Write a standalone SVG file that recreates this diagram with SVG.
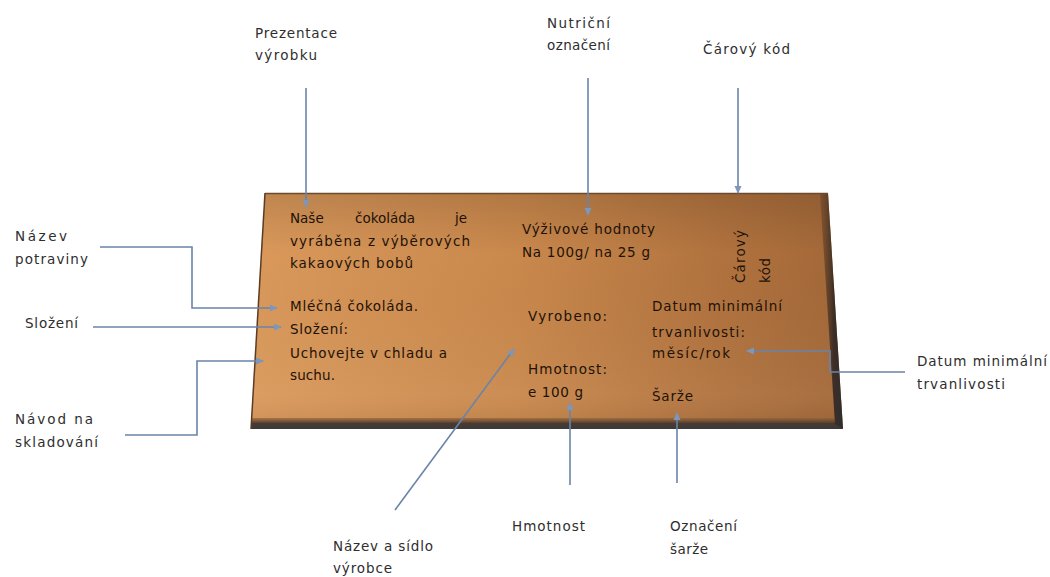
<svg xmlns="http://www.w3.org/2000/svg" width="1050" height="577" viewBox="0 0 1050 577">
  <style>
    .lbl { font-family: "DejaVu Sans", "Liberation Sans", sans-serif; font-size: 13.5px; fill: #2e2e2e; }
    .bar { font-family: "DejaVu Sans", "Liberation Sans", sans-serif; font-size: 13.5px; fill: #1e1208; }
    .conn { fill: none; stroke: #6a84a8; stroke-width: 1.6; marker-end: url(#arr); }
  </style>
  <defs>
    <marker id="arr" viewBox="0 0 8 8" refX="7" refY="4" markerWidth="8" markerHeight="8" markerUnits="userSpaceOnUse" orient="auto">
      <path d="M0,0.5 L8,4 L0,7.5 z" fill="#7d97bb"/>
    </marker>
    <linearGradient id="barH" x1="0" y1="0" x2="1" y2="0">
      <stop offset="0" stop-color="#da995b"/>
      <stop offset="0.45" stop-color="#c9884c"/>
      <stop offset="0.8" stop-color="#b0723e"/>
      <stop offset="1" stop-color="#a36838"/>
    </linearGradient>
    <linearGradient id="barV" x1="0" y1="0" x2="0" y2="1">
      <stop offset="0" stop-color="#000" stop-opacity="0.12"/>
      <stop offset="0.25" stop-color="#000" stop-opacity="0"/>
      <stop offset="0.85" stop-color="#fff" stop-opacity="0.04"/>
      <stop offset="1" stop-color="#000" stop-opacity="0.08"/>
    </linearGradient>
    <linearGradient id="bottomBand" x1="0" y1="0" x2="0" y2="1">
      <stop offset="0" stop-color="#8a5e3a" stop-opacity="0.6"/>
      <stop offset="0.5" stop-color="#4a3a30"/>
      <stop offset="1" stop-color="#3a3a3c"/>
    </linearGradient>
    <linearGradient id="rightBand" x1="0" y1="0" x2="1" y2="0">
      <stop offset="0" stop-color="#6a4426" stop-opacity="0.5"/>
      <stop offset="0.6" stop-color="#3c2e26"/>
      <stop offset="1" stop-color="#2e2e30"/>
    </linearGradient>
  </defs>

  <rect width="1050" height="577" fill="#ffffff"/>

  <g id="chocolate-bar">
    <polygon points="265,193 828,193 843,429 251,429" fill="url(#barH)"/>
    <polygon points="265,193 828,193 843,429 251,429" fill="url(#barV)"/>
    <polygon points="252,418 836,418 843,429 251,429" fill="url(#bottomBand)"/>
    <polygon points="820,194 828,193 843,429 835,424" fill="url(#rightBand)"/>
    <line x1="265" y1="193.5" x2="828" y2="193.5" stroke="#6e4a2c" stroke-width="1.5"/>
    <line x1="265" y1="193" x2="251" y2="429" stroke="#5a3c24" stroke-width="1.5"/>

    <g id="bar-text-presentation">
      <text class="bar" x="290" y="223">Naše</text>
      <text class="bar" x="355" y="223">čokoláda</text>
      <text class="bar" x="455" y="223">je</text>
      <text class="bar" x="290" y="246" textLength="180" lengthAdjust="spacing">vyráběna  z výběrových</text>
      <text class="bar" x="290" y="268" textLength="123" lengthAdjust="spacing">kakaových bobů</text>
    </g>
    <g id="bar-text-left">
      <text class="bar" x="290" y="311" textLength="128" lengthAdjust="spacing">Mléčná čokoláda.</text>
      <text class="bar" x="290" y="334" textLength="58" lengthAdjust="spacing">Složení:</text>
      <text class="bar" x="290" y="358" textLength="157" lengthAdjust="spacing">Uchovejte v chladu a</text>
      <text class="bar" x="290" y="380" textLength="45" lengthAdjust="spacing">suchu.</text>
    </g>
    <g id="bar-text-nutrition">
      <text class="bar" x="522" y="234" textLength="133" lengthAdjust="spacing">Výživové hodnoty</text>
      <text class="bar" x="522" y="257" textLength="128" lengthAdjust="spacing">Na 100g/ na 25 g</text>
    </g>
    <g id="bar-text-producer">
      <text class="bar" x="528" y="321" textLength="79" lengthAdjust="spacing">Vyrobeno:</text>
      <text class="bar" x="528" y="374" textLength="79" lengthAdjust="spacing">Hmotnost:</text>
      <text class="bar" x="528" y="397" textLength="55" lengthAdjust="spacing">e 100 g</text>
    </g>
    <g id="bar-text-date">
      <text class="bar" x="652" y="311" textLength="130" lengthAdjust="spacing">Datum minimální</text>
      <text class="bar" x="652" y="337" textLength="93" lengthAdjust="spacing">trvanlivosti:</text>
      <text class="bar" x="652" y="358" textLength="78" lengthAdjust="spacing">měsíc/rok</text>
      <text class="bar" x="652" y="401" textLength="41" lengthAdjust="spacing">Šarže</text>
    </g>
    <g id="bar-text-barcode">
      <text class="bar" transform="translate(745,283) rotate(-90)" textLength="53" lengthAdjust="spacing">Čárový</text>
      <text class="bar" transform="translate(770,283) rotate(-90)" textLength="25" lengthAdjust="spacing">kód</text>
    </g>
  </g>

  <g id="connectors">
    <path class="conn" d="M306,88 V207"/>
    <path class="conn" d="M588,78 V215"/>
    <path class="conn" d="M738,88 V193"/>
    <path class="conn" d="M100,247 H192 V308 H277"/>
    <path class="conn" d="M93,327 H281"/>
    <path class="conn" d="M125,435 H197 V361 H263"/>
    <path class="conn" d="M905,372 H830 V351 H747"/>
    <path class="conn" d="M395,510 L514,349"/>
    <path class="conn" d="M570,485 V403"/>
    <path class="conn" d="M677,483 V413"/>
  </g>

  <g id="label-prezentace">
    <text class="lbl" x="255" y="38" textLength="82" lengthAdjust="spacing">Prezentace</text>
    <text class="lbl" x="255" y="60" textLength="62" lengthAdjust="spacing">výrobku</text>
  </g>
  <g id="label-nutricni">
    <text class="lbl" x="547" y="28" textLength="63" lengthAdjust="spacing">Nutriční</text>
    <text class="lbl" x="547" y="50" textLength="63" lengthAdjust="spacing">označení</text>
  </g>
  <g id="label-carovy-kod">
    <text class="lbl" x="703" y="54" textLength="87" lengthAdjust="spacing">Čárový kód</text>
  </g>
  <g id="label-nazev-potraviny">
    <text class="lbl" x="15" y="241" textLength="52" lengthAdjust="spacing">Název</text>
    <text class="lbl" x="15" y="264" textLength="73" lengthAdjust="spacing">potraviny</text>
  </g>
  <g id="label-slozeni">
    <text class="lbl" x="25" y="328" textLength="53" lengthAdjust="spacing">Složení</text>
  </g>
  <g id="label-navod">
    <text class="lbl" x="15" y="424" textLength="78" lengthAdjust="spacing">Návod na</text>
    <text class="lbl" x="15" y="447" textLength="83" lengthAdjust="spacing">skladování</text>
  </g>
  <g id="label-datum">
    <text class="lbl" x="917" y="366" textLength="130" lengthAdjust="spacing">Datum minimální</text>
    <text class="lbl" x="917" y="389" textLength="88" lengthAdjust="spacing">trvanlivosti</text>
  </g>
  <g id="label-nazev-sidlo">
    <text class="lbl" x="333" y="551" textLength="100" lengthAdjust="spacing">Název a sídlo</text>
    <text class="lbl" x="333" y="573" textLength="59" lengthAdjust="spacing">výrobce</text>
  </g>
  <g id="label-hmotnost">
    <text class="lbl" x="512" y="531" textLength="73" lengthAdjust="spacing">Hmotnost</text>
  </g>
  <g id="label-oznaceni-sarze">
    <text class="lbl" x="670" y="531" textLength="67" lengthAdjust="spacing">Označení</text>
    <text class="lbl" x="670" y="554" textLength="38" lengthAdjust="spacing">šarže</text>
  </g>
</svg>
